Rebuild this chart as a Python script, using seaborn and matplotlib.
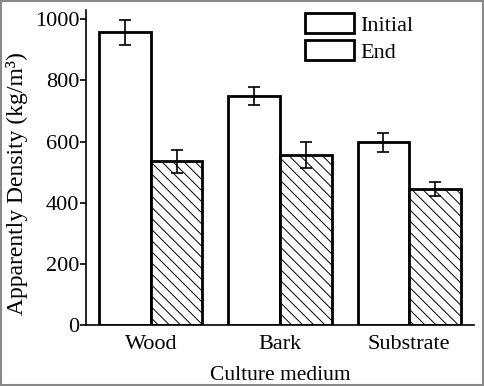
import matplotlib
matplotlib.use("Agg")
import matplotlib.pyplot as plt
import seaborn as sns
import pandas as pd
from matplotlib.patches import Rectangle

media = ['Wood', 'Bark', 'Substrate']
initial = [957, 749, 597]
initial_err = [40, 28, 32]
end = [535, 556, 444]
end_err = [37, 42, 23]

df = pd.DataFrame({
    'medium': media * 2,
    'stage': ['Initial'] * 3 + ['End'] * 3,
    'density': initial + end,
    'err': initial_err + end_err,
})

sns.set_style('ticks', {'axes.edgecolor': 'black', 'text.color': 'black',
                        'axes.labelcolor': 'black', 'xtick.color': 'black',
                        'ytick.color': 'black'})
plt.rcParams['font.family'] = ['Liberation Serif', 'DejaVu Serif']
plt.rcParams['hatch.linewidth'] = 0.7
plt.rcParams['hatch.color'] = '#333333'

fig = plt.figure(figsize=(4.84, 3.86), dpi=100)
ax = fig.add_axes([0.178, 0.158, 0.801, 0.816])

sns.barplot(data=df, x='medium', y='density', hue='stage', errorbar=None,
            palette=['white', 'white'], edgecolor='black', linewidth=2,
            width=0.8, ax=ax)

# hatch the End bars and add error bars at the bar centres
for cont, errs, hatch in zip(ax.containers, [initial_err, end_err], [None, '\\\\\\']):
    xs, ys = [], []
    for bar in cont:
        if hatch:
            bar.set_hatch(hatch)
        xs.append(bar.get_x() + bar.get_width() / 2)
        ys.append(bar.get_height())
    ax.errorbar(xs, ys, yerr=errs, fmt='none', ecolor='black',
                elinewidth=1.2, capsize=4, capthick=1.2, zorder=5)

ax.set_ylim(0, 1030)
ax.set_xlim(-0.5, 2.5)
ax.set_yticks([0, 200, 400, 600, 800, 1000])
sns.despine(ax=ax)
ax.spines['left'].set_linewidth(1.2)
ax.spines['bottom'].set_linewidth(1.2)
ax.tick_params(axis='y', labelsize=16, length=4, width=1.2, pad=1)
ax.tick_params(axis='x', labelsize=16, length=0, pad=7)
ax.set_xlabel('Culture medium', fontsize=15.5, labelpad=9)
ax.set_ylabel('Apparently Density (kg/m³)', fontsize=17)
ax.yaxis.set_label_coords(-0.15, 0.45)

ax.legend(loc='upper left', bbox_to_anchor=(0.630, 0.966),
          bbox_transform=fig.transFigure, frameon=False, fontsize=16,
          handlelength=2.2, handleheight=1.0, labelspacing=0.2,
          handletextpad=0.3, borderpad=0, borderaxespad=0)

fig.patches.append(Rectangle((0.002, 0.003), 0.996, 0.994, transform=fig.transFigure,
                             fill=False, edgecolor='#888888', linewidth=1.5))

fig.savefig('out.png', dpi=100)
